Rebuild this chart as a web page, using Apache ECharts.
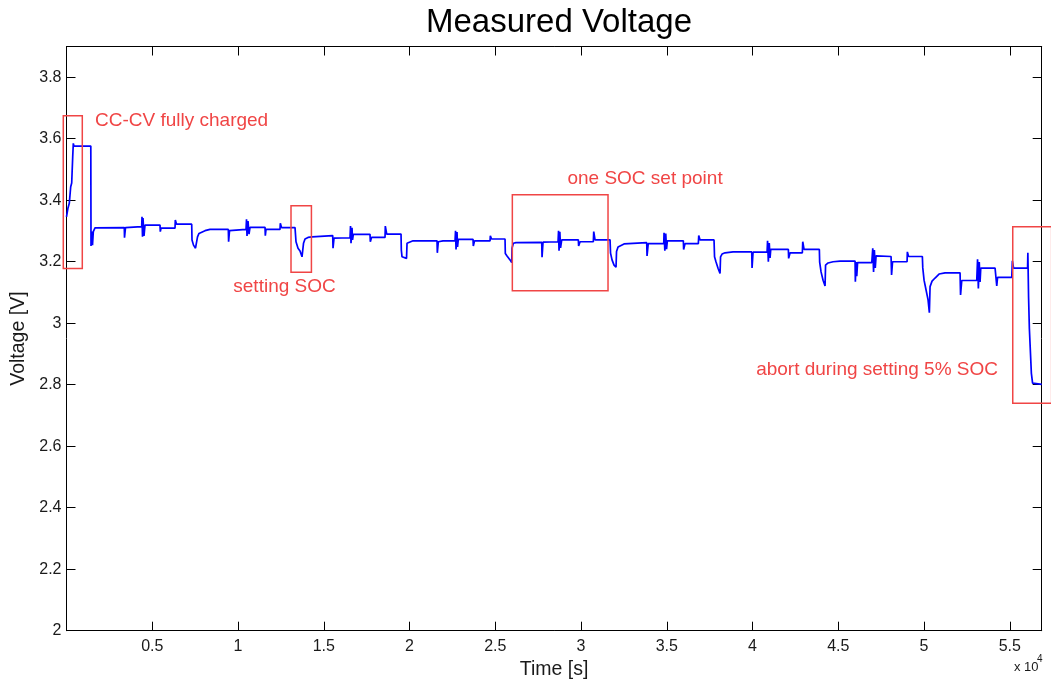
<!DOCTYPE html>
<html>
<head>
<meta charset="utf-8">
<script src="https://cdn.jsdelivr.net/npm/echarts@6/dist/echarts.min.js"></script>
<style>
  html, body { margin: 0; padding: 0; background: #ffffff; }
  #chart { width: 1051px; height: 686px; }
</style>
</head>
<body>
<div id="chart"></div>
<script>
// ---- data ----
const chartTitle = 'Measured Voltage';
const xAxisName = 'Time [s]';
const yAxisName = 'Voltage [V]';

// time in seconds
const timeS = [
  0, 87, 163, 245, 303, 362, 397, 437, 1417, 1429,
  1487, 1516, 1563, 1662, 1720, 3370, 3382, 3440, 4385, 4402,
  4432, 4461, 4519, 4577, 5452, 5469, 5510, 6327, 6344, 6414,
  7300, 7318, 7405, 7522, 7580, 7639, 7726, 8076, 8368, 9435,
  9452, 9505, 10467, 10496, 10525, 10583, 10642, 10700, 11575, 11592,
  11633, 12449, 12467, 12537, 13324, 13382, 13499, 13616, 13732, 13790,
  13819, 13907, 14082, 14315, 15522, 15540, 15598, 15656, 16531, 16560,
  16589, 16648, 16677, 16724, 17697, 17715, 17785, 18572, 18589, 18671,
  19505, 19522, 19563, 19651, 19825, 19855, 19971, 20204, 21604, 21621,
  21680, 21954, 22654, 22683, 22712, 22770, 22800, 22846, 23703, 23720,
  23790, 24694, 24712, 24782, 25569, 25586, 25686, 25861, 25960, 25977,
  26053, 26210, 27709, 27727, 27785, 28660, 28689, 28718, 28765, 28806,
  28875, 29843, 29860, 29942, 30718, 30741, 30817, 31692, 31721, 31808,
  31925, 32041, 32070, 32158, 32274, 32507, 33032, 33831, 33849, 33919,
  34823, 34840, 34887, 34940, 34986, 35033, 35966, 35983, 36065, 36840,
  36864, 36939, 37755, 37784, 37872, 37988, 38105, 38135, 38222, 38397,
  38864, 39954, 39972, 40030, 40847, 40876, 40922, 40975, 41021, 41062,
  42089, 42106, 42188, 42905, 42928, 43004, 43896, 43914, 43995, 44112,
  44228, 44258, 44404, 44695, 45103, 45978, 45995, 46036, 46077, 46124,
  46952, 47010, 47057, 47103, 47156, 47203, 48077, 48106, 48164, 49010,
  49027, 49097, 49902, 49926, 50001, 50118, 50234, 50310, 50351, 50467,
  50642, 50875, 51225, 52100, 52129, 52199, 53073, 53120, 53167, 53219,
  53266, 53307, 54141, 54240, 54287, 55115, 55150, 55220, 56036, 56053,
  56094, 56141, 56199, 56258, 56328, 56357, 56864
];

// measured voltage in volts
const voltV = [
  3.346, 3.375, 3.390, 3.444, 3.456, 3.541, 3.585, 3.576, 3.576, 3.251,
  3.298, 3.254, 3.298, 3.310, 3.311, 3.311, 3.278, 3.311, 3.314, 3.346,
  3.281, 3.342, 3.284, 3.319, 3.319, 3.298, 3.309, 3.309, 3.336, 3.322,
  3.322, 3.271, 3.254, 3.244, 3.244, 3.281, 3.292, 3.301, 3.305, 3.305,
  3.265, 3.301, 3.305, 3.338, 3.284, 3.332, 3.290, 3.312, 3.312, 3.285,
  3.305, 3.305, 3.325, 3.311, 3.311, 3.265, 3.244, 3.235, 3.216, 3.216,
  3.260, 3.274, 3.279, 3.281, 3.285, 3.244, 3.277, 3.278, 3.278, 3.316,
  3.260, 3.310, 3.271, 3.289, 3.289, 3.265, 3.279, 3.279, 3.316, 3.290,
  3.290, 3.238, 3.216, 3.211, 3.211, 3.260, 3.265, 3.268, 3.268, 3.229,
  3.265, 3.268, 3.268, 3.301, 3.240, 3.297, 3.248, 3.273, 3.273, 3.251,
  3.268, 3.268, 3.284, 3.274, 3.274, 3.227, 3.219, 3.206, 3.197, 3.244,
  3.260, 3.262, 3.263, 3.215, 3.264, 3.265, 3.301, 3.236, 3.297, 3.245,
  3.271, 3.271, 3.251, 3.265, 3.265, 3.298, 3.271, 3.271, 3.228, 3.206,
  3.189, 3.182, 3.233, 3.248, 3.254, 3.258, 3.260, 3.262, 3.219, 3.259,
  3.259, 3.294, 3.236, 3.292, 3.241, 3.268, 3.268, 3.240, 3.259, 3.259,
  3.285, 3.271, 3.271, 3.216, 3.199, 3.179, 3.162, 3.216, 3.225, 3.229,
  3.232, 3.232, 3.180, 3.231, 3.231, 3.268, 3.200, 3.261, 3.212, 3.240,
  3.240, 3.211, 3.229, 3.229, 3.265, 3.240, 3.240, 3.199, 3.167, 3.140,
  3.121, 3.189, 3.196, 3.200, 3.202, 3.202, 3.135, 3.199, 3.153, 3.197,
  3.197, 3.244, 3.167, 3.238, 3.180, 3.219, 3.217, 3.157, 3.200, 3.200,
  3.232, 3.217, 3.217, 3.180, 3.140, 3.108, 3.076, 3.034, 3.119, 3.137,
  3.147, 3.160, 3.164, 3.164, 3.092, 3.139, 3.139, 3.208, 3.113, 3.199,
  3.134, 3.179, 3.179, 3.121, 3.149, 3.149, 3.203, 3.179, 3.179, 3.229,
  3.086, 2.983, 2.978, 2.837, 2.805, 2.801, 2.801
];

// annotation boxes: [t0, v0, t1, v1] in data units
const annotationBoxes = [
  [-187, 3.178, 921, 3.675],
  [13090, 3.166, 14280, 3.382],
  [25995, 3.106, 31574, 3.418],
  [55172, 2.740, 57440, 3.314]
];
// annotation texts: [t, v, text, alignment]
const annotationTexts = [
  [1662, 3.659, 'CC-CV fully charged', 'left'],
  [12712, 3.117, 'setting SOC', 'center'],
  [33732, 3.471, 'one SOC set point', 'center'],
  [47260, 2.849, 'abort during setting 5% SOC', 'center']
];

// axis ranges / ticks
const xMin = 0, xMax = 56860, xStep = 5000, xScale = 10000;
const yMin = 2, yMax = 3.9, yStep = 0.2;

// ---- chart ----
const FONT = '"Liberation Sans", Arial, sans-serif';
const TXT = '#1a1a1a';
const RED = '#f04545';

const lineData = timeS.map((t, i) => [t, voltV[i]]);

const axisLineStyle = { show: true, onZero: false, lineStyle: { color: '#000', width: 1 } };
const axisTickStyle = { show: true, inside: true, length: 9, lineStyle: { color: '#000', width: 1 } };

const baseX = {
  type: 'value', min: xMin, max: xMax, interval: xStep,
  splitLine: { show: false },
  axisLine: axisLineStyle,
  axisTick: axisTickStyle
};
const baseY = {
  type: 'value', min: yMin, max: yMax, interval: yStep,
  splitLine: { show: false },
  axisLine: axisLineStyle,
  axisTick: axisTickStyle
};

const chart = echarts.init(document.getElementById('chart'), null, { renderer: 'canvas' });
chart.setOption({
  animation: false,
  backgroundColor: '#ffffff',
  title: {
    text: chartTitle,
    left: 554, top: 1, textAlign: 'center',
    textStyle: { fontFamily: FONT, fontSize: 33, fontWeight: 'normal', color: '#000' }
  },
  grid: { left: 66.5, top: 46.5, right: 9.3, bottom: 55.3, containLabel: false },
  xAxis: [
    Object.assign({}, baseX, {
      position: 'bottom',
      name: xAxisName, nameLocation: 'middle', nameGap: 27,
      nameTextStyle: { fontFamily: FONT, fontSize: 19.5, color: TXT },
      axisLabel: {
        show: true, margin: 8, fontFamily: FONT, fontSize: 16, color: TXT,
        showMinLabel: false, showMaxLabel: false,
        formatter: v => String(+(v / xScale).toFixed(2))
      }
    }),
    Object.assign({}, baseX, { position: 'top', axisLabel: { show: false } })
  ],
  yAxis: [
    Object.assign({}, baseY, {
      position: 'left',
      name: yAxisName, nameLocation: 'middle', nameGap: 35,
      nameTextStyle: { fontFamily: FONT, fontSize: 19.5, color: TXT },
      axisLabel: {
        show: true, margin: 5, fontFamily: FONT, fontSize: 16, color: TXT,
        showMaxLabel: false,
        formatter: v => String(+v.toFixed(2))
      }
    }),
    Object.assign({}, baseY, { position: 'right', axisLabel: { show: false } })
  ],
  graphic: [
    { type: 'text', left: 1014, top: 661, style: { text: 'x 10', fontFamily: FONT, fontSize: 13, fill: TXT } },
    { type: 'text', left: 1037, top: 654, style: { text: '4', fontFamily: FONT, fontSize: 10, fill: TXT } }
  ],
  series: [
    {
      type: 'line', name: 'Voltage', data: lineData,
      xAxisIndex: 0, yAxisIndex: 0,
      showSymbol: false, symbol: 'none',
      lineStyle: { color: '#0000ff', width: 1.7 },
      silent: true, z: 3
    },
    {
      type: 'custom', name: 'boxes', data: annotationBoxes,
      xAxisIndex: 0, yAxisIndex: 0, clip: false, silent: true, z: 4,
      encode: { x: [0, 2], y: [1, 3] },
      renderItem: (params, api) => {
        const p0 = api.coord([api.value(0), api.value(1)]);
        const p1 = api.coord([api.value(2), api.value(3)]);
        return {
          type: 'rect',
          shape: { x: Math.min(p0[0], p1[0]), y: Math.min(p0[1], p1[1]),
                   width: Math.abs(p1[0] - p0[0]), height: Math.abs(p1[1] - p0[1]) },
          style: { fill: 'none', stroke: RED, lineWidth: 1.5 }
        };
      }
    },
    {
      type: 'custom', name: 'notes', data: annotationTexts,
      xAxisIndex: 0, yAxisIndex: 0, clip: false, silent: true, z: 5,
      encode: { x: 0, y: 1 },
      renderItem: (params, api) => {
        const item = annotationTexts[params.dataIndex];
        const p = api.coord([item[0], item[1]]);
        return {
          type: 'text', x: p[0], y: p[1],
          style: { text: item[2], fill: RED, fontFamily: FONT, fontSize: 19,
                   align: item[3], verticalAlign: 'middle' }
        };
      }
    }
  ]
});
</script>
</body>
</html>
